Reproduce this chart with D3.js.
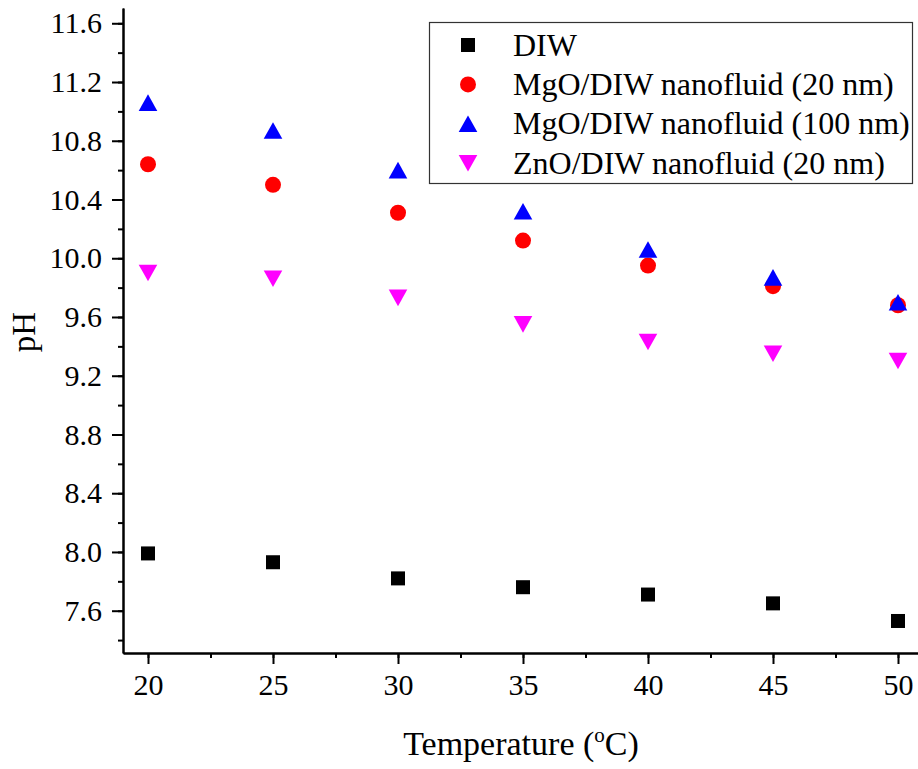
<!DOCTYPE html>
<html>
<head>
<meta charset="utf-8">
<script src="https://cdn.jsdelivr.net/npm/d3@7"></script>
<style>
  body { margin: 0; background: #fff; }
  svg text { font-family: "Liberation Serif", "Times New Roman", Times, serif; }
</style>
</head>
<body>
<div id="chart"></div>
<script>
// temperatures (deg C)
const temps = [20, 25, 30, 35, 40, 45, 50];

// pH values
const diw = [7.99, 7.93, 7.82, 7.76, 7.71, 7.65, 7.53];
const mgo20 = [10.64, 10.50, 10.31, 10.12, 9.95, 9.81, 9.68];
const mgo100 = [11.06, 10.87, 10.60, 10.32, 10.06, 9.87, 9.70];
const zno20 = [9.90, 9.86, 9.73, 9.55, 9.43, 9.35, 9.30];

const xTicks = [20, 25, 30, 35, 40, 45, 50];
const yTicks = [7.6, 8.0, 8.4, 8.8, 9.2, 9.6, 10.0, 10.4, 10.8, 11.2, 11.6];

const seriesNames = ["DIW", "MgO/DIW nanofluid (20 nm)", "MgO/DIW nanofluid (100 nm)", "ZnO/DIW nanofluid (20 nm)"];
const seriesColors = ["#000000", "#ff0000", "#0000ff", "#ff00ff"];
const seriesShapes = ["square", "circle", "up", "down"];
const seriesValues = [diw, mgo20, mgo100, zno20];

const width = 918, height = 769;

const svg = d3.select("#chart")
  .append("svg")
  .attr("width", width)
  .attr("height", height);

// scales
let xScale = d3.scaleLinear()
  .domain([19, 50.8])
  .range([123, 918]);

let yScale = d3.scaleLinear()
  .domain([7.312, 11.704])
  .range([653, 8]);

// minor ticks first, then the major ones on top
svg.append("g")
  .attr("transform", "translate(123,0)")
  .call(d3.axisLeft(yScale).tickValues(d3.range(7.4, 11.61, 0.2)).tickSize(5).tickSizeOuter(0).tickFormat(""))
  .call(g => g.selectAll("line").attr("stroke-width", 2));

svg.append("g")
  .attr("transform", "translate(0,653)")
  .call(d3.axisBottom(xScale).tickValues(d3.range(20, 50.1, 2.5)).tickSize(5).tickSizeOuter(0).tickFormat(""))
  .call(g => g.selectAll("line").attr("stroke-width", 2));

// y axis
svg.append("g")
  .attr("transform", "translate(123,0)")
  .call(d3.axisLeft(yScale).tickValues(yTicks).tickSize(11).tickSizeOuter(0).tickPadding(10).tickFormat(d3.format(".1f")))
  .call(g => g.select(".domain").attr("stroke-width", 2.5))
  .call(g => g.selectAll("line").attr("stroke-width", 2))
  .call(g => g.selectAll("text").attr("font-size", "30px").attr("fill", "#000"));

// x axis
svg.append("g")
  .attr("transform", "translate(0,653)")
  .call(d3.axisBottom(xScale).tickValues(xTicks).tickSize(11).tickSizeOuter(0).tickPadding(10))
  .call(g => g.select(".domain").attr("stroke-width", 2.5))
  .call(g => g.selectAll("line").attr("stroke-width", 2))
  .call(g => g.selectAll("text").attr("font-size", "30px").attr("fill", "#000"));

// axis titles
svg.append("text")
  .attr("transform", "translate(35,332) rotate(-90)")
  .attr("text-anchor", "middle")
  .attr("font-size", "33px")
  .text("pH");

const xt = svg.append("text")
  .attr("x", 521)
  .attr("y", 755)
  .attr("text-anchor", "middle")
  .attr("font-size", "34px");
xt.append("tspan").text("Temperature (");
xt.append("tspan").attr("font-size", "21px").attr("dy", -13).text("o");
xt.append("tspan").attr("dy", 13).text("C)");

// marker drawing
function marker(g, shape, cx, cy, color) {
  if (shape === "square") {
    g.append("rect").attr("x", cx - 7).attr("y", cy - 7).attr("width", 14).attr("height", 14).attr("fill", color);
  } else if (shape === "circle") {
    g.append("circle").attr("cx", cx).attr("cy", cy).attr("r", 8).attr("fill", color);
  } else if (shape === "up") {
    g.append("path").attr("d", `M${cx},${cy - 8.3}L${cx + 9.3},${cy + 8.3}L${cx - 9.3},${cy + 8.3}Z`).attr("fill", color);
  } else {
    g.append("path").attr("d", `M${cx - 9.3},${cy - 8.3}L${cx + 9.3},${cy - 8.3}L${cx},${cy + 8.3}Z`).attr("fill", color);
  }
}

// points
seriesValues.forEach((vals, i) => {
  const g = svg.append("g").attr("class", "series");
  vals.forEach((v, j) => {
    marker(g, seriesShapes[i], xScale(temps[j]), yScale(v), seriesColors[i]);
  });
});

// legend
const legend = svg.append("g");
legend.append("rect")
  .attr("x", 429.5).attr("y", 22.5)
  .attr("width", 483).attr("height", 161)
  .attr("fill", "#fff")
  .attr("stroke", "#333")
  .attr("stroke-width", 1.2);

seriesNames.forEach((name, i) => {
  const cy = 45 + i * 39.4;
  marker(legend, seriesShapes[i], 468, cy, seriesColors[i]);
  legend.append("text")
    .attr("x", 513)
    .attr("y", cy + 10.5)
    .attr("font-size", "32px")
    .text(name);
});
</script>
</body>
</html>
